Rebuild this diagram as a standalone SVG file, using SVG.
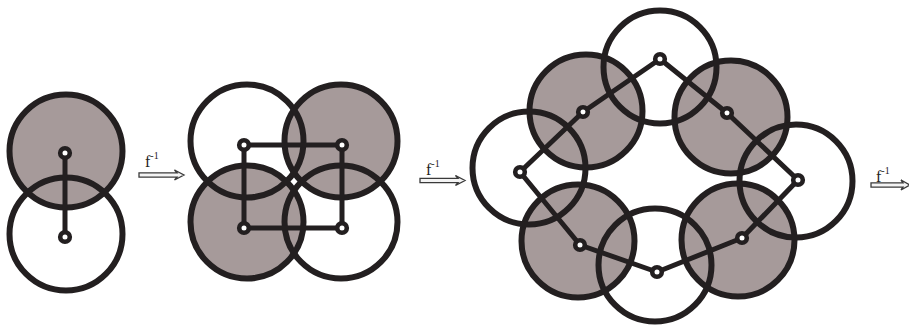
<svg xmlns="http://www.w3.org/2000/svg" width="909" height="325" viewBox="0 0 909 325">
<style>
.sh{fill:#a69a9a;stroke:#231f20;stroke-width:6}
.wh{fill:none;stroke:#231f20;stroke-width:6}
.ln{fill:none;stroke:#231f20;stroke-width:5;stroke-linejoin:round}
.nd{fill:#fff;stroke:#231f20;stroke-width:4.6}
.ar{fill:#f4f4f4;stroke:#3a3a3a;stroke-width:1.3;stroke-linejoin:miter}
.lb{font-family:"Liberation Serif","Times New Roman",serif;font-size:16px;fill:#222}
.sp{font-size:10px}
</style>
<rect width="909" height="325" fill="#fff"/>
<g id="panel1">
  <g id="p1-c1"><circle class="sh" cx="66" cy="151" r="56.5"/></g>
  <g id="p1-c2"><circle class="wh" cx="66" cy="234" r="56.5"/></g>
</g>
<g id="panel2">
  <g id="p2-c2"><circle class="sh" cx="341" cy="141" r="56.5"/></g>
  <g id="p2-c3"><circle class="sh" cx="247" cy="222" r="56.5"/></g>
  <g id="p2-c1"><circle class="wh" cx="247" cy="141" r="56.5"/></g>
  <g id="p2-c4"><circle class="wh" cx="341" cy="222" r="56.5"/></g>
</g>
<g id="panel3">
  <g id="p3-ul"><circle class="sh" cx="586" cy="111" r="56.5"/></g>
  <g id="p3-ur"><circle class="sh" cx="731" cy="117" r="56.5"/></g>
  <g id="p3-ll"><circle class="sh" cx="578" cy="241" r="56.5"/></g>
  <g id="p3-lr"><circle class="sh" cx="738" cy="240" r="56.5"/></g>
  <g id="p3-t"><circle class="wh" cx="660" cy="67" r="56.5"/></g>
  <g id="p3-l"><circle class="wh" cx="529" cy="168" r="56.5"/></g>
  <g id="p3-r"><circle class="wh" cx="796" cy="181" r="56.5"/></g>
  <g id="p3-b"><circle class="wh" cx="655" cy="265" r="56.5"/></g>
</g>
<g id="connectors">
  <path class="ln" d="M65,153 L65,237"/>
  <path class="ln" d="M244,145 L342,145 L342,228 L244,228 Z"/>
  <path class="ln" d="M660,59 L583,112 L520,172 L580,245 L657,272 L742,238 L798,180 L727,113 Z"/>
</g>
<g id="nodes">
  <circle class="nd" cx="65" cy="153" r="4.8"/>
  <circle class="nd" cx="65" cy="237" r="4.8"/>
  <circle class="nd" cx="244" cy="145" r="4.8"/>
  <circle class="nd" cx="342" cy="145" r="4.8"/>
  <circle class="nd" cx="244" cy="228" r="4.8"/>
  <circle class="nd" cx="342" cy="228" r="4.8"/>
  <circle class="nd" cx="660" cy="59" r="4.8"/>
  <circle class="nd" cx="583" cy="112" r="4.8"/>
  <circle class="nd" cx="520" cy="172" r="4.8"/>
  <circle class="nd" cx="580" cy="245" r="4.8"/>
  <circle class="nd" cx="657" cy="272" r="4.8"/>
  <circle class="nd" cx="742" cy="238" r="4.8"/>
  <circle class="nd" cx="798" cy="180" r="4.8"/>
  <circle class="nd" cx="727" cy="113" r="4.8"/>
</g>
<g id="arrow1">
  <path class="ar" d="M139,172.8 L177,172.8 L174.5,170 L184,175 L174.5,180 L177,177.2 L139,177.2 Z"/>
  <text class="lb" x="145" y="167">f<tspan class="sp" dy="-8">-1</tspan></text>
</g>
<g id="arrow2">
  <path class="ar" d="M420,178.3 L458,178.3 L455.5,175.5 L465,180.5 L455.5,185.5 L458,182.7 L420,182.7 Z"/>
  <text class="lb" x="426" y="175">f<tspan class="sp" dy="-8">-1</tspan></text>
</g>
<g id="arrow3">
  <path class="ar" d="M871,182.8 L903,182.8 L901,180 L910,185 L901,190 L903,187.2 L871,187.2 Z"/>
  <text class="lb" x="876" y="182">f<tspan class="sp" dy="-8">-1</tspan></text>
</g>
</svg>
